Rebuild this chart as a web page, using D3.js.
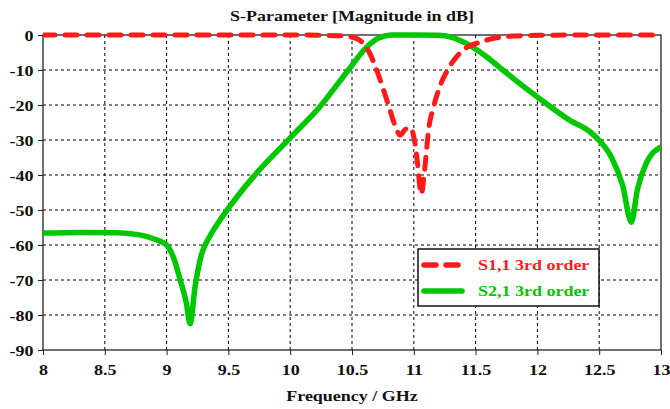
<!DOCTYPE html>
<html>
<head>
<meta charset="utf-8">
<script src="https://cdn.jsdelivr.net/npm/d3@7"></script>
<style>
  body { margin: 0; background: #fff; }
  text { font-family: "Liberation Serif", "Times New Roman", serif; font-weight: bold; }
</style>
</head>
<body>
<div id="chart"></div>
<script>
// S1,1 (reflection)
const s11Freq = [8, 8.5, 9, 9.5, 10, 10.3, 10.45, 10.5, 10.56, 10.64, 10.72, 10.79, 10.85, 10.89, 10.93, 10.97, 11.01, 11.03, 11.06, 11.09, 11.12, 11.16, 11.21, 11.29, 11.4, 11.54, 11.67, 11.8, 12, 12.5, 13];
const s11Db = [0, 0, 0, 0, 0, -0.1, -0.3, -0.6, -1.4, -5, -12, -19.5, -26, -28.6, -27, -26.5, -31, -36.6, -45.5, -37.7, -27, -20.5, -14.8, -9, -4.3, -2, -0.8, -0.3, -0.1, 0, 0];

// S2,1 (transmission)
const s21Freq = [8, 8.3, 8.6, 8.78, 8.9, 9, 9.06, 9.11, 9.16, 9.19, 9.23, 9.28, 9.35, 9.43, 9.5, 9.7, 10, 10.24, 10.46, 10.62, 10.72, 10.82, 11, 11.2, 11.3, 11.45, 11.58, 11.72, 12, 12.26, 12.42, 12.51, 12.6, 12.69, 12.76, 12.81, 12.88, 13];
const s21Db = [-56.6, -56.4, -56.5, -57.1, -58.3, -60, -64, -70, -76.6, -82.5, -72, -63, -57.5, -53, -49.5, -40.6, -29.4, -20.5, -10.5, -3.4, -0.8, 0, 0, -0.1, -0.6, -2.9, -6, -10, -17.7, -24.3, -27.5, -30.5, -35, -43, -53.5, -44, -36.7, -32];

const xTicks = [8, 8.5, 9, 9.5, 10, 10.5, 11, 11.5, 12, 12.5, 13];
const yTicks = [0, -10, -20, -30, -40, -50, -60, -70, -80, -90];
const seriesNames = ["S1,1 3rd order", "S2,1 3rd order"];
const seriesColors = ["#ff1a1a", "#00c800"];

const config = { width: 670, height: 409, left: 43, right: 9, top: 35, bottom: 59 };
const stretch = "scale(1.2,1)";

const svg = d3.select("#chart").append("svg")
  .attr("width", config.width)
  .attr("height", config.height);

const w = config.width - config.left - config.right;
const h = config.height - config.top - config.bottom;

const g = svg.append("g").attr("transform", `translate(${config.left},${config.top})`);

const xScale = d3.scaleLinear().domain([8, 13]).range([0, w]);
const yScale = d3.scaleLinear().domain([-90, 0]).range([h, 0]);

// grid
g.append("g").selectAll("line").data(xTicks.slice(1, -1)).join("line")
  .attr("x1", d => xScale(d)).attr("x2", d => xScale(d))
  .attr("y1", 0).attr("y2", h)
  .attr("stroke", "#000").attr("stroke-width", 1).attr("stroke-dasharray", "3,3");

g.append("g").selectAll("line").data(yTicks.slice(1, -1)).join("line")
  .attr("y1", d => yScale(d)).attr("y2", d => yScale(d))
  .attr("x1", 0).attr("x2", w)
  .attr("stroke", "#000").attr("stroke-width", 1).attr("stroke-dasharray", "3,3");

// axes
const xAxis = g.append("g")
  .attr("transform", `translate(0,${h})`)
  .call(d3.axisBottom(xScale).tickValues(xTicks).tickFormat(d => d).tickSize(5).tickPadding(9));
xAxis.selectAll("text")
  .attr("font-size", 15).attr("fill", "#111")
  .attr("transform", stretch);

g.append("g")
  .call(d3.axisLeft(yScale).tickValues(yTicks).tickFormat(d => d).tickSize(5).tickPadding(3))
  .selectAll("text")
  .attr("font-size", 15).attr("fill", "#111")
  .attr("dy", "0.35em")
  .attr("transform", stretch);
g.selectAll(".tick line").attr("stroke", "#222");
g.selectAll(".domain").remove();

// frame
g.append("rect")
  .attr("width", w).attr("height", h)
  .attr("fill", "none").attr("stroke", "#222").attr("stroke-width", 1.3);

// curves
g.append("clipPath").attr("id", "clip")
  .append("rect").attr("x", 0).attr("y", -4).attr("width", w).attr("height", h + 4);

const line = d3.line()
  .x(d => xScale(d[0]))
  .y(d => yScale(d[1]))
  .curve(d3.curveMonotoneX);

const curves = g.append("g").attr("clip-path", "url(#clip)");

curves.append("path")
  .datum(d3.zip(s21Freq, s21Db))
  .attr("fill", "none")
  .attr("stroke", seriesColors[1])
  .attr("stroke-width", 5.5)
  .attr("stroke-linejoin", "round")
  .attr("d", line);

curves.append("path")
  .datum(d3.zip(s11Freq, s11Db))
  .attr("fill", "none")
  .attr("stroke", seriesColors[0])
  .attr("stroke-width", 5)
  .attr("stroke-linecap", "round")
  .attr("stroke-dasharray", "12,10")
  .attr("d", line);

// legend
const legend = svg.append("g").attr("transform", "translate(418,249)");
legend.append("rect")
  .attr("width", 181).attr("height", 57)
  .attr("fill", "#fff").attr("stroke", "#111").attr("stroke-width", 1.5);

seriesNames.forEach((name, i) => {
  const y = 16 + i * 26;
  legend.append("line")
    .attr("x1", 6).attr("x2", 44).attr("y1", y).attr("y2", y)
    .attr("stroke", seriesColors[i])
    .attr("stroke-width", 5.5)
    .attr("stroke-linecap", "round")
    .attr("stroke-dasharray", i === 0 ? "12,10" : null);
  legend.append("text")
    .attr("transform", `translate(60,${y + 5}) ${stretch}`)
    .attr("font-size", 15)
    .attr("fill", seriesColors[i])
    .text(name);
});

// title and axis label
svg.append("text")
  .attr("transform", `translate(${config.left + w / 2},21) ${stretch}`)
  .attr("text-anchor", "middle")
  .attr("font-size", 15).attr("fill", "#111")
  .text("S-Parameter [Magnitude in dB]");

svg.append("text")
  .attr("transform", `translate(${config.left + w / 2},401) ${stretch}`)
  .attr("text-anchor", "middle")
  .attr("font-size", 15).attr("fill", "#111")
  .text("Frequency / GHz");
</script>
</body>
</html>
